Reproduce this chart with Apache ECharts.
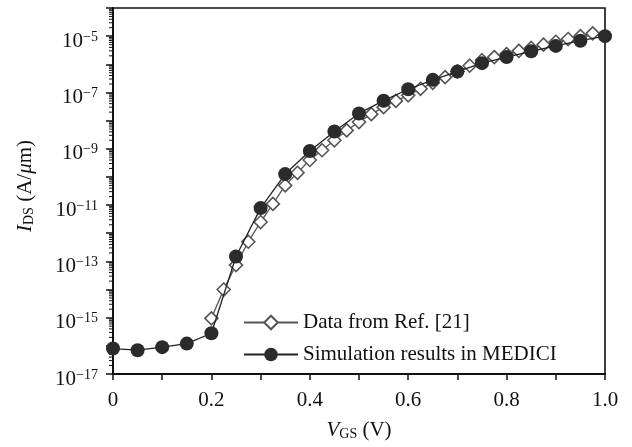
<!DOCTYPE html>
<html><head><meta charset="utf-8">
<script src="https://cdn.jsdelivr.net/npm/echarts@6/dist/echarts.min.js"></script>
<style>html,body{margin:0;padding:0;background:#fff}#c{width:632px;height:447px}</style>
</head><body><div id="c"></div>
<script>
// Simulation results in MEDICI (filled circles)
const simVgs = [0, 0.05, 0.1, 0.15, 0.2, 0.25, 0.3, 0.35, 0.4, 0.45, 0.5, 0.55, 0.6, 0.65, 0.7, 0.75, 0.8, 0.85, 0.9, 0.95, 1.0];
const simIds = [8e-17, 7e-17, 9e-17, 1.2e-16, 2.8e-16, 1.5e-13, 7.8e-12, 1.26e-10, 8.3e-10, 4.1e-9, 1.8e-8, 5.1e-8, 1.3e-7, 2.8e-7, 5.5e-7, 1.1e-6, 1.8e-6, 2.9e-6, 4.5e-6, 6.9e-6, 1.0e-5];
// Data from Ref. [21] (open diamonds)
const refVgs = [0.2, 0.225, 0.25, 0.275, 0.3, 0.325, 0.35, 0.375, 0.4, 0.425, 0.45, 0.475, 0.5, 0.525, 0.55, 0.575, 0.6, 0.625, 0.65, 0.675, 0.7, 0.725, 0.75, 0.775, 0.8, 0.825, 0.85, 0.875, 0.9, 0.925, 0.95, 0.975];
const refIds = [9.5e-16, 1.0e-14, 7.4e-14, 5.0e-13, 2.5e-12, 1.1e-11, 5.0e-11, 1.4e-10, 4.0e-10, 8.9e-10, 2.0e-9, 4.5e-9, 8.9e-9, 1.7e-8, 3.0e-8, 5.0e-8, 7.9e-8, 1.35e-7, 2.2e-7, 3.5e-7, 5.6e-7, 8.9e-7, 1.4e-6, 1.8e-6, 2.3e-6, 3.0e-6, 3.8e-6, 5.0e-6, 6.3e-6, 7.9e-6, 1.0e-5, 1.26e-5];
const seriesNames = ['Data from Ref. [21]', 'Simulation results in MEDICI'];
const xTickLabels = ['0', '0.2', '0.4', '0.6', '0.8', '1.0'];
const yLabelExponents = [-17, -15, -13, -11, -9, -7, -5];

const FONT = 'Liberation Serif';
const INK = '#111';
const lg = v => Math.log10(v);

// log-spaced minor tick positions (axis decoration), in decades
const minorTickVals = [];
for (let e = -17; e < -4; e++) for (let m = 2; m <= 9; m++) minorTickVals.push([0, lg(m * Math.pow(10, e))]);

const nameRich = {
  i: {fontFamily: FONT, fontSize: 21, fontStyle: 'italic', color: INK, lineHeight: 22},
  s: {fontFamily: FONT, fontSize: 14, color: INK, verticalAlign: 'bottom', lineHeight: 16},
  n: {fontFamily: FONT, fontSize: 21, color: INK, lineHeight: 22}
};

const chart = echarts.init(document.getElementById('c'), null, {renderer: 'canvas'});
chart.setOption({
  animation: false,
  backgroundColor: '#fff',
  grid: {left: 113, right: 27, top: 8, bottom: 73, show: true, borderColor: INK, borderWidth: 1.6, backgroundColor: 'transparent'},
  legend: {
    data: seriesNames,
    orient: 'vertical',
    left: 238, top: 307,
    itemWidth: 54, itemHeight: 17, itemGap: 11,
    textStyle: {fontFamily: FONT, fontSize: 21, color: INK}
  },
  xAxis: {
    type: 'value', min: 0, max: 1, interval: 0.2,
    axisLine: {show: true, lineStyle: {color: INK, width: 2}},
    axisTick: {show: true, length: 6, lineStyle: {color: INK, width: 1.5}},
    minorTick: {show: true, splitNumber: 2, length: 6, lineStyle: {color: INK, width: 1.5}},
    splitLine: {show: false},
    axisLabel: {
      margin: 16, fontFamily: FONT, fontSize: 21, color: INK,
      formatter: v => xTickLabels[Math.round(v / 0.2)]
    },
    name: '{i|V}{s|GS}{n| (V)}',
    nameLocation: 'middle', nameGap: 45,
    nameTextStyle: {rich: nameRich}
  },
  yAxis: {
    type: 'value', min: -17, max: -4, interval: 1,
    axisLine: {show: true, lineStyle: {color: INK, width: 2}},
    axisTick: {show: true, length: 7, lineStyle: {color: INK, width: 1.5}},
    splitLine: {show: false},
    axisLabel: {
      margin: 15,
      padding: [10, 0, 0, 0],
      formatter: v => {
        const e = Math.round(v);
        if (yLabelExponents.indexOf(e) < 0) return '';
        return '{b|10}{s|\u2212' + (-e) + '}';
      },
      rich: {
        b: {fontFamily: FONT, fontSize: 21, color: INK, lineHeight: 22},
        s: {fontFamily: FONT, fontSize: 14, color: INK, verticalAlign: 'top', lineHeight: 14}
      }
    },
    name: '{i|I}{s|DS}{n| (A/}{i|\u03bc}{n|m)}',
    nameLocation: 'middle', nameGap: 77, nameRotate: 90,
    nameTextStyle: {padding: [0, 0, 0, 10], rich: nameRich}
  },
  series: [
    {
      name: seriesNames[0], type: 'line',
      data: refVgs.map((v, i) => [v, lg(refIds[i])]),
      symbol: 'diamond', symbolSize: 13, showSymbol: true,
      itemStyle: {color: '#fff', borderColor: '#555', borderWidth: 1.6},
      lineStyle: {color: '#555', width: 1.3},
      z: 2
    },
    {
      name: seriesNames[1], type: 'line',
      data: simVgs.map((v, i) => [v, lg(simIds[i])]),
      symbol: 'circle', symbolSize: 14, showSymbol: true,
      itemStyle: {color: '#2b2b2b', borderColor: '#2b2b2b', borderWidth: 0},
      lineStyle: {color: '#222', width: 1.3},
      z: 3
    },
    {
      name: 'minorTicks', type: 'custom', silent: true, clip: false,
      data: minorTickVals,
      renderItem: (params, api) => {
        const p = api.coord([api.value(0), api.value(1)]);
        return {type: 'line', shape: {x1: p[0] - 4, y1: p[1], x2: p[0], y2: p[1]}, style: {stroke: INK, lineWidth: 1}};
      },
      z: 1
    }
  ]
});
</script>
</body></html>
